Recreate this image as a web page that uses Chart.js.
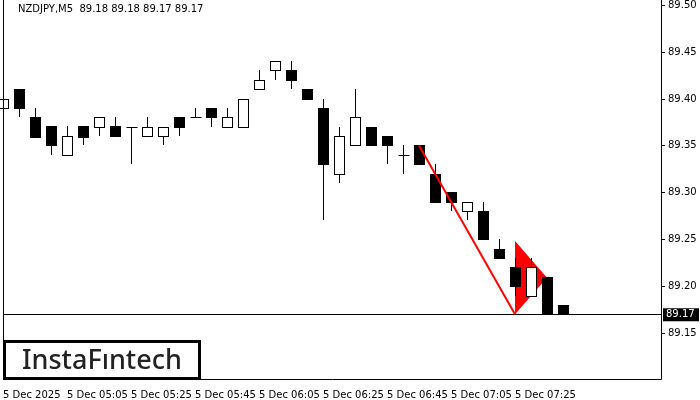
<!DOCTYPE html>
<html><head><meta charset="utf-8">
<script src="https://cdn.jsdelivr.net/npm/chart.js@4.4.1/dist/chart.umd.min.js"></script>
<style>html,body{margin:0;padding:0;background:#fff}#w{width:700px;height:400px}</style>
</head><body><div id="w"><canvas id="c"></canvas></div>
<script>
const opens  = [89.390,89.410,89.380,89.371,89.340,89.371,89.370,89.371,89.370,89.360,89.360,89.380,89.380,89.390,89.370,89.370,89.410,89.430,89.430,89.410,89.390,89.320,89.350,89.370,89.360,89.340,89.350,89.320,89.300,89.280,89.280,89.240,89.220,89.190,89.210,89.180];
const highs  = [89.400,89.410,89.390,89.371,89.371,89.371,89.380,89.380,89.370,89.380,89.370,89.380,89.390,89.390,89.390,89.400,89.430,89.440,89.440,89.410,89.400,89.370,89.410,89.370,89.360,89.350,89.350,89.330,89.300,89.290,89.290,89.250,89.230,89.230,89.210,89.180];
const lows   = [89.380,89.380,89.359,89.340,89.340,89.350,89.360,89.360,89.330,89.360,89.350,89.360,89.380,89.370,89.370,89.370,89.410,89.420,89.410,89.400,89.270,89.310,89.350,89.350,89.330,89.320,89.330,89.290,89.280,89.270,89.250,89.230,89.190,89.190,89.170,89.170];
const closes = [89.400,89.390,89.359,89.350,89.360,89.359,89.380,89.360,89.370,89.370,89.370,89.370,89.380,89.380,89.380,89.400,89.420,89.440,89.420,89.400,89.330,89.360,89.380,89.350,89.350,89.340,89.330,89.290,89.290,89.290,89.250,89.230,89.200,89.220,89.170,89.170];
const tickLabels = ["5 Dec 2025","5 Dec 05:05","5 Dec 05:25","5 Dec 05:45","5 Dec 06:05","5 Dec 06:25","5 Dec 06:45","5 Dec 07:05","5 Dec 07:25"];
const priceTicks = [89.15,89.20,89.25,89.30,89.35,89.40,89.45,89.50];
const trendLine = [{x:26,y:89.35},{x:32,y:89.17}];
const flag = [{x:32,y:89.248},{x:34,y:89.209},{x:32,y:89.17}];
const lastPrice = 89.17;
const title = "NZDJPY,M5  89.18 89.18 89.17 89.17";

const font = "10px 'DejaVu Sans'";
const candlePlugin = {
  id:'candles',
  beforeDatasetsDraw(chart){
    const {ctx, scales:{x,y}, chartArea:a} = chart;
    ctx.save();
    ctx.beginPath(); ctx.rect(a.left-4,a.top,a.right-a.left+4,a.bottom-a.top); ctx.clip();
    ctx.strokeStyle='#000'; ctx.lineWidth=1;
    const lp=Math.round(y.getPixelForValue(lastPrice))+0.5;
    ctx.beginPath(); ctx.moveTo(a.left,lp); ctx.lineTo(a.right,lp); ctx.stroke();
    ctx.fillStyle='#ff0000';
    ctx.beginPath();
    flag.forEach((p,i)=>{const px=x.getPixelForValue(p.x),py=y.getPixelForValue(p.y); i?ctx.lineTo(px,py):ctx.moveTo(px,py);});
    ctx.closePath(); ctx.fill();
    for(let i=0;i<opens.length;i++){
      const cx=Math.round(x.getPixelForValue(i))+0.5;
      const yo=Math.round(y.getPixelForValue(opens[i])), yc=Math.round(y.getPixelForValue(closes[i]));
      const yh=Math.round(y.getPixelForValue(highs[i])), yl=Math.round(y.getPixelForValue(lows[i]));
      ctx.strokeStyle='#000'; ctx.lineWidth=1;
      ctx.beginPath(); ctx.moveTo(cx,yh); ctx.lineTo(cx,yl); ctx.stroke();
      const top=Math.min(yo,yc), bot=Math.max(yo,yc);
      if(bot-top<1){ ctx.beginPath(); ctx.moveTo(cx-5,top+0.5); ctx.lineTo(cx+6,top+0.5); ctx.stroke(); continue; }
      if(closes[i]<opens[i]){ ctx.fillStyle='#000'; ctx.fillRect(cx-5.5,top,11,bot-top+1); }
      else { ctx.fillStyle='#fff'; ctx.fillRect(cx-5,top+0.5,10,bot-top); ctx.strokeRect(cx-5,top+0.5,10,bot-top); }
    }
    ctx.restore();
  },
  afterDraw(chart){
    const {ctx, scales:{y}, chartArea:a} = chart;
    ctx.save();
    ctx.strokeStyle='#000'; ctx.lineWidth=1;
    ctx.beginPath();
    ctx.moveTo(a.left+0.5,0); ctx.lineTo(a.left+0.5,a.bottom+0.5); ctx.lineTo(a.right+0.5,a.bottom+0.5); ctx.lineTo(a.right+0.5,0);
    ctx.stroke();
    ctx.font=font; ctx.fillStyle='#000'; ctx.textBaseline='middle'; ctx.textAlign='left';
    ctx.fillText(title,18,9);
    priceTicks.forEach(v=>{
      const py=Math.round(y.getPixelForValue(v))+0.5;
      ctx.beginPath(); ctx.moveTo(a.right,py); ctx.lineTo(a.right+4,py); ctx.stroke();
      ctx.fillText(v.toFixed(2),a.right+7,py);
    });
    const py=y.getPixelForValue(lastPrice);
    ctx.fillStyle='#000'; ctx.fillRect(a.right+2,py-6,36,13);
    ctx.fillStyle='#fff'; ctx.fillText(lastPrice.toFixed(2),a.right+5,py+0.5);
    ctx.fillStyle='#fff'; ctx.fillRect(3,341,198,38);
    ctx.lineWidth=3; ctx.strokeStyle='#000'; ctx.strokeRect(4.5,341.5,195,37);
    ctx.fillStyle='#222'; ctx.font="500 27px 'Noto Sans'"; ctx.textBaseline='middle';
    ctx.fillText('InstaFıntech',22,361);
    ctx.restore();
  }
};

new Chart(document.getElementById('c'),{
  type:'line',
  data:{datasets:[{data:trendLine,borderColor:'#ff0000',borderWidth:2,pointRadius:0,fill:false,tension:0}]},
  options:{
    responsive:true, maintainAspectRatio:false, animation:false,
    layout:{padding:{top:0,left:3,right:0,bottom:0}},
    plugins:{legend:{display:false},tooltip:{enabled:false}},
    scales:{
      x:{type:'linear',min:0,max:41.125,grid:{display:false,drawTicks:true},border:{display:false},
        afterBuildTicks(s){s.ticks=tickLabels.map((_,i)=>({value:i*4}));},
        afterFit(s){s.height=21;},
        ticks:{autoSkip:false,maxRotation:0,align:'start',padding:2,color:'#000',font:{family:'DejaVu Sans',size:10},
          callback:(v)=>tickLabels[Math.round(v/4)]}},
      y:{position:'right',min:89.101,max:89.505,grid:{display:false},border:{display:false},
        afterBuildTicks(s){s.ticks=[];},
        afterFit(s){s.width=39;},
        ticks:{display:false}}
    }
  },
  plugins:[candlePlugin]
});
</script></body></html>
